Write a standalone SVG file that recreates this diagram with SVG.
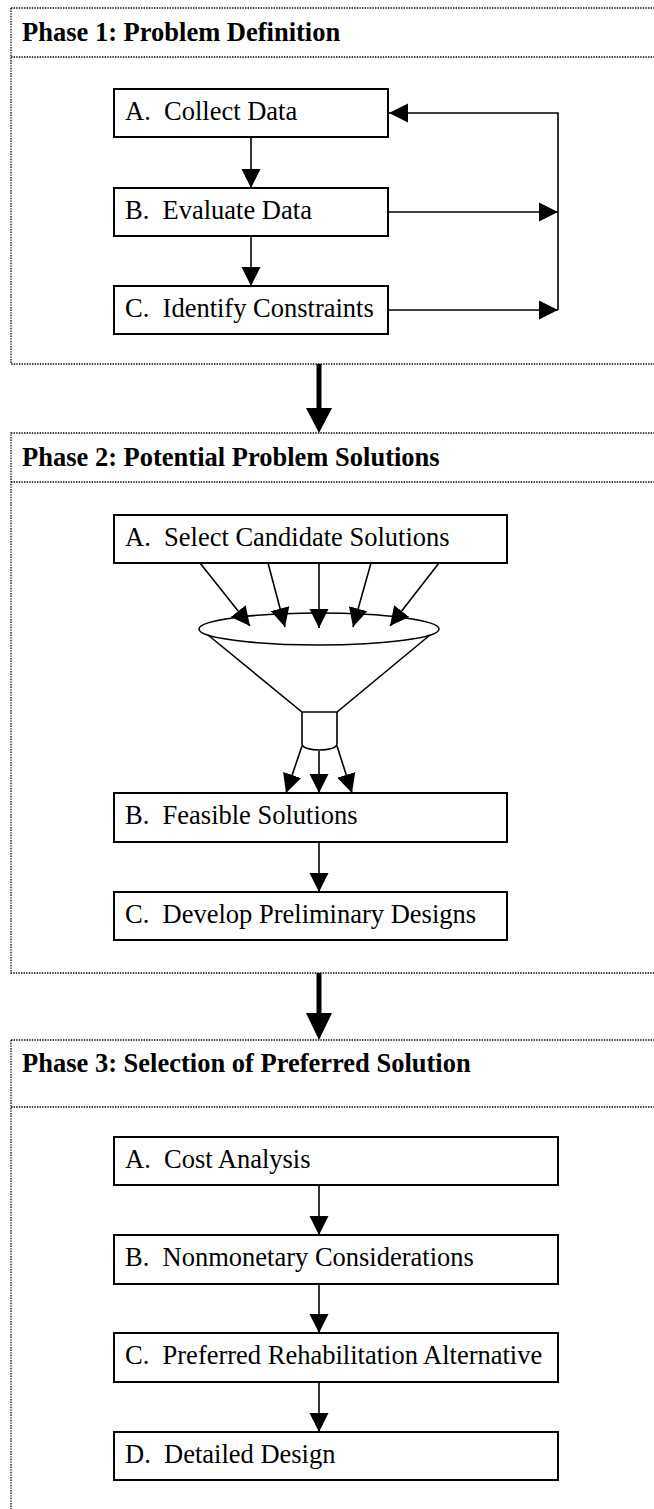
<svg xmlns="http://www.w3.org/2000/svg" width="654" height="1509" viewBox="0 0 654 1509">
<style>
.frame{fill:none;stroke:#000;stroke-width:1.3;stroke-dasharray:1.4 1.2}
.title{font-family:"Liberation Serif","Times New Roman",serif;font-weight:bold;font-size:26.5px;fill:#000}
.box{fill:#fff;stroke:#000;stroke-width:2}
.lbl{font-family:"Liberation Serif","Times New Roman",serif;font-size:26.5px;fill:#000}
.ln{fill:none;stroke:#000;stroke-width:1.6}
.thick{fill:none;stroke:#000;stroke-width:5}
</style>
<defs>
<marker id="ah" markerUnits="userSpaceOnUse" markerWidth="20" markerHeight="20" viewBox="0 0 20 20" refX="19" refY="10" orient="auto">
<path d="M0,0.5 L19,10 L0,19.5 Z" fill="#000"/>
</marker>
</defs>
<g id="phase1">
<rect class="frame" x="11" y="8" width="660" height="356"/>
<line class="frame" x1="11" y1="57" x2="660" y2="57"/>
<text class="title" x="22" y="41">Phase 1: Problem Definition</text>
</g>
<g id="phase2">
<rect class="frame" x="11" y="433" width="660" height="540"/>
<line class="frame" x1="11" y1="482" x2="660" y2="482"/>
<text class="title" x="22" y="466">Phase 2: Potential Problem Solutions</text>
</g>
<g id="phase3">
<rect class="frame" x="11" y="1040" width="660" height="490"/>
<line class="frame" x1="11" y1="1107" x2="660" y2="1107"/>
<text class="title" x="22" y="1072">Phase 3: Selection of Preferred Solution</text>
</g>
<g id="p1a"><rect class="box" x="114" y="89" width="274" height="48"/><text class="lbl" x="125" y="120" xml:space="preserve">A.  Collect Data</text></g>
<g id="p1b"><rect class="box" x="114" y="188" width="274" height="48"/><text class="lbl" x="125" y="219" xml:space="preserve">B.  Evaluate Data</text></g>
<g id="p1c"><rect class="box" x="114" y="286" width="274" height="48"/><text class="lbl" x="125" y="317" xml:space="preserve">C.  Identify Constraints</text></g>
<g id="p2a"><rect class="box" x="114" y="515" width="393" height="48"/><text class="lbl" x="125" y="546" xml:space="preserve">A.  Select Candidate Solutions</text></g>
<g id="funnel">
<ellipse class="ln" cx="319" cy="629" rx="120" ry="16"/>
<path class="ln" d="M208,635 L302,712 L337,712 L430,635"/>
<path class="ln" d="M302,712 L302,744 C302,752 337,752 337,744 L337,712"/>
</g>
<g id="p2b"><rect class="box" x="114" y="793" width="393" height="49"/><text class="lbl" x="125" y="824" xml:space="preserve">B.  Feasible Solutions</text></g>
<g id="p2c"><rect class="box" x="114" y="892" width="393" height="48"/><text class="lbl" x="125" y="923" xml:space="preserve">C.  Develop Preliminary Designs</text></g>
<g id="p3a"><rect class="box" x="114" y="1137" width="444" height="48"/><text class="lbl" x="125" y="1168" xml:space="preserve">A.  Cost Analysis</text></g>
<g id="p3b"><rect class="box" x="114" y="1235" width="444" height="49"/><text class="lbl" x="125" y="1266" xml:space="preserve">B.  Nonmonetary Considerations</text></g>
<g id="p3c"><rect class="box" x="114" y="1333" width="444" height="49"/><text class="lbl" x="125" y="1364" xml:space="preserve">C.  Preferred Rehabilitation Alternative</text></g>
<g id="p3d"><rect class="box" x="114" y="1432" width="444" height="48"/><text class="lbl" x="125" y="1463" xml:space="preserve">D.  Detailed Design</text></g>
<g id="connectors">
<line class="ln" x1="251" y1="137" x2="251" y2="188" marker-end="url(#ah)"/>
<line class="ln" x1="251" y1="236" x2="251" y2="286" marker-end="url(#ah)"/>
<line class="ln" x1="388" y1="212" x2="558" y2="212" marker-end="url(#ah)"/>
<line class="ln" x1="388" y1="310" x2="558" y2="310" marker-end="url(#ah)"/>
<polyline class="ln" points="558,310 558,113 389,113" marker-end="url(#ah)"/>
<line class="thick" x1="319" y1="364" x2="319" y2="410"/>
<path d="M306,408 L332,408 L319,433 Z" fill="#000"/>
<line class="ln" x1="200" y1="563" x2="250" y2="626" marker-end="url(#ah)"/>
<line class="ln" x1="268" y1="563" x2="285" y2="627" marker-end="url(#ah)"/>
<line class="ln" x1="319" y1="563" x2="319" y2="628" marker-end="url(#ah)"/>
<line class="ln" x1="371" y1="563" x2="353" y2="627" marker-end="url(#ah)"/>
<line class="ln" x1="439" y1="563" x2="390" y2="626" marker-end="url(#ah)"/>
<line class="ln" x1="302" y1="746" x2="286" y2="793" marker-end="url(#ah)"/>
<line class="ln" x1="319" y1="751" x2="319" y2="793" marker-end="url(#ah)"/>
<line class="ln" x1="337" y1="746" x2="352" y2="793" marker-end="url(#ah)"/>
<line class="ln" x1="319" y1="842" x2="319" y2="892" marker-end="url(#ah)"/>
<line class="thick" x1="319" y1="973" x2="319" y2="1015"/>
<path d="M306,1013 L332,1013 L319,1040 Z" fill="#000"/>
<line class="ln" x1="319" y1="1185" x2="319" y2="1235" marker-end="url(#ah)"/>
<line class="ln" x1="319" y1="1284" x2="319" y2="1333" marker-end="url(#ah)"/>
<line class="ln" x1="319" y1="1382" x2="319" y2="1432" marker-end="url(#ah)"/>
</g>
</svg>
